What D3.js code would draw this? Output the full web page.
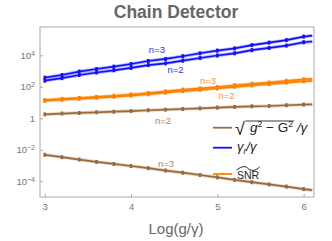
<!DOCTYPE html>
<html>
<head>
<meta charset="utf-8">
<script src="https://cdn.jsdelivr.net/npm/d3@7.9.0/dist/d3.min.js"></script>
<style>
  body { margin: 0; background: #fff; }
  svg { display: block; font-family: "Liberation Sans", Arial, sans-serif; }
</style>
</head>
<body>
<svg id="chart" width="332" height="241"></svg>
<script>
// x positions (Log(g/γ)); last one is where the curves stop, no marker there
const xVals = [3, 3.2, 3.4, 3.6, 3.8, 4, 4.2, 4.4, 4.6, 4.8, 5, 5.2, 5.4, 5.6, 5.8, 6, 6.1];

// γr/γ  (blue)
const gammaN3 = [380, 562, 933, 1349, 1905, 2818, 4365, 5888, 8710, 13490, 19950, 27540, 44670, 64570, 93330, 154900, 177800];
const gammaN2 = [245, 355, 562, 813, 1122, 1585, 2399, 3090, 4571, 6761, 9772, 13490, 21380, 29510, 41690, 67600, 75900];

// SNR (orange)
const snrN3 = [14.5, 17.0, 19.5, 22.9, 26.9, 32.4, 39.8, 51.3, 66.1, 79.4, 97.7, 125.9, 154.9, 186.2, 239.9, 295.1, 316];
const snrN2 = [12.9, 15.1, 17.4, 20.0, 23.4, 27.5, 33.9, 42.7, 53.7, 64.6, 79.4, 100, 123, 148, 186, 224, 240];

// sqrt(g^2 - G^2)/γ (brown)
const sqrtN2 = [1.78, 2.0, 2.19, 2.4, 2.63, 2.88, 3.24, 3.55, 3.89, 4.27, 4.79, 5.25, 5.75, 6.03, 6.76, 7.41, 7.76];
const sqrtN3 = [4.8e-3, 3.4e-3, 2.4e-3, 1.7e-3, 1.26e-3, 9.3e-4, 6.8e-4, 4.8e-4, 3.5e-4, 2.5e-4, 1.78e-4, 1.23e-4, 8.7e-5, 6.3e-5, 4.6e-5, 3.2e-5, 2.7e-5];

const xTicks = [3, 4, 5, 6];
const yTickExps = [-4, -2, 0, 2, 4];

const brown = '#9a6a3c', blue = '#1010ff', orange = '#ff8000';

const series = [
  { vals: sqrtN2, color: brown },
  { vals: sqrtN3, color: brown },
  { vals: snrN2, color: orange },
  { vals: snrN3, color: orange },
  { vals: gammaN2, color: blue },
  { vals: gammaN3, color: blue }
];

// curve labels: [text, x, log10 y, color]
const curveLabels = [
  ['n=3', 4.30, 4.34, '#3030ff'],
  ['n=2', 4.515, 3.09, '#3030ff'],
  ['n=3', 4.892, 2.40, '#ff9530'],
  ['n=2', 5.106, 1.44, '#ff9530'],
  ['n=2', 4.37, -0.17, '#b08558'],
  ['n=3', 4.405, -2.86, '#b08558']
];

const svg = d3.select('#chart');
const m = { left: 40, right: 314, top: 27, bottom: 197 };

const x = d3.scaleLinear().domain([2.945, 6.12]).range([m.left, m.right]);
const y = d3.scaleLog().domain([1e-5, Math.pow(10, 5.8)]).range([m.bottom, m.top]);

// title
svg.append('text')
  .attr('x', 176).attr('y', 17.5)
  .attr('text-anchor', 'middle')
  .attr('font-size', 17.5).attr('font-weight', 'bold')
  .attr('fill', '#666')
  .text('Chain Detector');

// x label
svg.append('text')
  .attr('x', 176).attr('y', 234)
  .attr('text-anchor', 'middle')
  .attr('font-size', 15).attr('fill', '#666')
  .text('Log(g/γ)');

const plot = svg.append('g');
plot.append('defs').append('clipPath').attr('id', 'clip')
  .append('rect').attr('x', m.left).attr('y', m.top).attr('width', m.right - m.left).attr('height', m.bottom - m.top);

const line = d3.line().x((d, i) => x(xVals[i])).y(d => y(d));

const marks = plot.append('g').attr('clip-path', 'url(#clip)');
series.forEach(s => {
  marks.append('path').datum(s.vals)
    .attr('d', line).attr('fill', 'none')
    .attr('stroke', s.color).attr('stroke-width', 3.4).attr('stroke-opacity', 0.3);
  marks.append('path').datum(s.vals)
    .attr('d', line).attr('fill', 'none')
    .attr('stroke', s.color).attr('stroke-width', 1.7);
  marks.selectAll(null).data(s.vals.slice(0, xVals.length - 1))
    .enter().append('rect')
    .attr('x', (d, i) => x(xVals[i]) - 1.3)
    .attr('y', d => y(d) - 2)
    .attr('width', 2.6).attr('height', 4)
    .attr('fill', s.color);
});

curveLabels.forEach(([t, lx, ly, c]) => {
  plot.append('text')
    .attr('x', x(lx)).attr('y', y(Math.pow(10, ly)))
    .attr('dy', '0.35em')
    .attr('text-anchor', 'middle')
    .attr('font-size', 9.5).attr('fill', c)
    .text(t);
});

// frame
svg.append('rect')
  .attr('x', m.left).attr('y', m.top).attr('width', m.right - m.left).attr('height', m.bottom - m.top)
  .attr('fill', 'none').attr('stroke', '#aaa').attr('stroke-width', 1);

// x axis
const xAxis = svg.append('g').attr('transform', `translate(0,${m.bottom})`)
  .call(d3.axisBottom(x).tickValues(xTicks).tickFormat(d3.format('d')).tickSize(-3).tickPadding(6));
xAxis.select('.domain').remove();
xAxis.selectAll('line').attr('stroke', '#aaa');
xAxis.selectAll('text').attr('fill', '#777').attr('font-size', 9.5).attr('font-family', null);

// y axis
const yAxis = svg.append('g').attr('transform', `translate(${m.left},0)`)
  .call(d3.axisLeft(y).tickValues(yTickExps.map(e => Math.pow(10, e))).tickSize(-3).tickPadding(5).tickFormat(() => ''));
yAxis.select('.domain').remove();
yAxis.selectAll('line').attr('stroke', '#aaa');
yAxis.selectAll('.tick text').each(function(d, i) {
  const e = yTickExps[i];
  const t = d3.select(this).attr('fill', '#777').attr('font-size', 9.5).attr('font-family', null);
  if (e === 0) { t.text('1'); return; }
  t.append('tspan').text('10');
  t.append('tspan').attr('dy', '-0.45em').attr('font-size', 7).text(e < 0 ? '−' + (-e) : e);
});

// legend
const leg = svg.append('g');
const legRows = [
  { color: brown, y: 127.7 },
  { color: blue, y: 147.7 },
  { color: orange, y: 174 }
];
legRows.forEach(r => {
  leg.append('line')
    .attr('x1', 213).attr('x2', 232).attr('y1', r.y).attr('y2', r.y)
    .attr('stroke', r.color).attr('stroke-width', 1.8);
});

// row 1: sqrt(g^2 - G^2) /γ
leg.append('text')
  .attr('x', 235).attr('y', 135)
  .attr('font-size', 18).attr('fill', '#222')
  .text('√');
const t1 = leg.append('text').attr('x', 250).attr('y', 132).attr('font-size', 13.5).attr('fill', '#222')
  .style('white-space', 'pre');
t1.append('tspan').attr('font-style', 'italic').text('g');
t1.append('tspan').attr('dy', -5.5).attr('font-size', 8.5).text('2');
t1.append('tspan').attr('dy', 5.5).text(' − G');
const sup2 = t1.append('tspan').attr('dy', -5.5).attr('font-size', 8.5).text('2');
t1.append('tspan').attr('dy', 5.5).attr('font-style', 'italic').text('\u00a0/γ');
const bb = sup2.node().getBBox();
leg.append('line')
  .attr('x1', 245.5).attr('x2', bb.x + bb.width + 1)
  .attr('y1', 121).attr('y2', 121)
  .attr('stroke', '#222').attr('stroke-width', 0.9);

// row 2: γr/γ
const t2 = leg.append('text').attr('x', 237).attr('y', 151).attr('font-size', 13).attr('fill', '#222').attr('font-style', 'italic');
t2.append('tspan').text('γ');
t2.append('tspan').attr('dy', 3).attr('font-size', 8.5).text('r');
t2.append('tspan').attr('dy', -3).text('/γ');

// row 3: SNR with wide tilde
const t3 = leg.append('text').attr('x', 237).attr('y', 178.5).attr('font-size', 10.5).attr('fill', '#222').text('SNR');
const w3 = t3.node().getComputedTextLength();
leg.append('path')
  .attr('d', `M236.5,170 C${237 + w3 * 0.25},165.5 ${237 + w3 * 0.4},166 ${237 + w3 * 0.5},168.5 S${237 + w3 * 0.8},171.5 ${237.5 + w3},167`)
  .attr('fill', 'none').attr('stroke', '#222').attr('stroke-width', 1);
</script>
</body>
</html>
